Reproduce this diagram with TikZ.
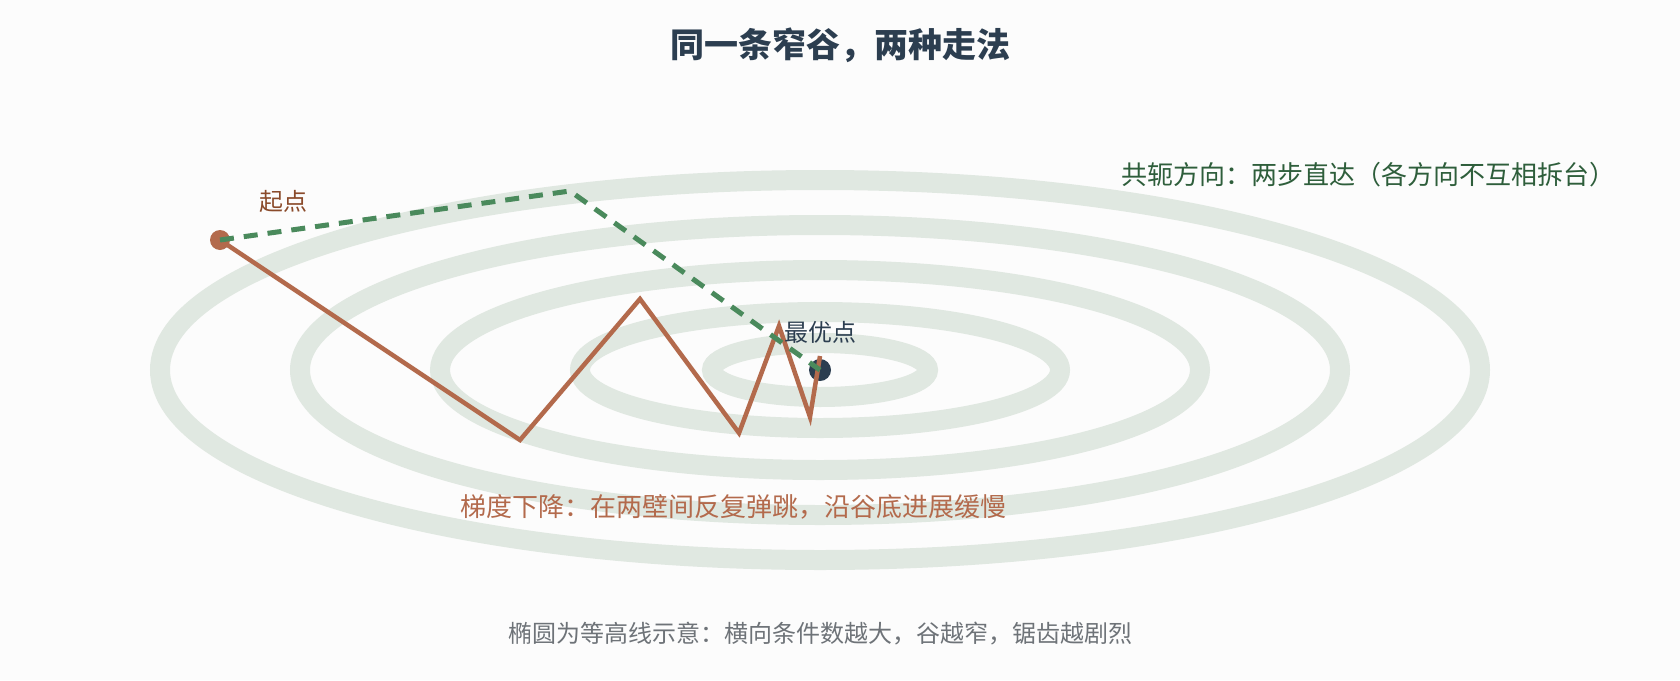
\documentclass[tikz,border=0pt]{standalone}
\usepackage{fontspec}
\usepackage{xcolor}
\usepackage{tikz}
\newfontfamily\cjk{Noto Sans CJK SC}
\usetikzlibrary{positioning}
\definecolor{ink}{HTML}{2C3E50}
\definecolor{contour}{HTML}{E0E8E1}
\definecolor{gdcol}{HTML}{B36A4C}
\definecolor{cgcol}{HTML}{4A8A5C}
\definecolor{cgtext}{HTML}{2E5E3B}
\definecolor{startcol}{HTML}{8A4A2A}
\definecolor{notecol}{HTML}{6E7378}
\definecolor{bg}{HTML}{FCFCFC}
\newcommand{\fs}[1]{\fontsize{#1}{1.2\dimexpr#1\relax}\selectfont}

\begin{document}
\begin{tikzpicture}[x=0.5pt, y=-0.5pt, font=\cjk, every node/.style={inner sep=0pt}]
    \fill[bg] (0, 0) rectangle (1680, 680);
    \useasboundingbox (0, 0) rectangle (1680, 680);
    % contour lines of the valley
    \foreach \rx/\ry in {660/190, 520/145, 380/100, 240/58, 108/27}
      \draw[contour, line width=10pt] (820, 370) ellipse [x radius=\rx*0.5pt, y radius=\ry*0.5pt];
    \node[circle, fill=ink, minimum size=11pt] (opt) at (820, 370) {};
    \node[circle, fill=gdcol, minimum size=10pt] (start) at (220, 240) {};
    % gradient descent zigzag
    \coordinate (g1) at (520, 440);
    \coordinate (g2) at (640, 299);
    \coordinate (g3) at (739, 433);
    \coordinate (g4) at (779, 326);
    \coordinate (g5) at (810, 417);
    \coordinate (g6) at (820, 356);
    \draw[gdcol, line width=2.25pt] (start.center) -- (g1) -- (g2) -- (g3) -- (g4) -- (g5) -- (g6);
    % conjugate directions
    \coordinate (c1) at (570, 191);
    \draw[cgcol, line width=2.5pt, dash pattern=on 7pt off 5pt] (start.center) -- (c1) -- (opt.center);
    \node[ink, font=\cjk\bfseries\fs{17pt}] (title) at (840, 45) {同一条窄谷，两种走法};
    \node[startcol, font=\cjk\fs{12pt}] (startlabel) at (283, 201) {起点};
    \node[ink, font=\cjk\fs{12pt}] (optlabel) at (820, 332) {最优点};
    \node[cgtext, font=\cjk\fs{13pt}, anchor=west] (cglabel) at (1121, 175) {共轭方向：两步直达（各方向不互相拆台）};
    \node[gdcol, font=\cjk\fs{13pt}] (gdlabel) at (733, 507) {梯度下降：在两壁间反复弹跳，沿谷底进展缓慢};
    \node[notecol, font=\cjk\fs{12pt}] (note) at (820, 634) {椭圆为等高线示意：横向条件数越大，谷越窄，锯齿越剧烈};
  \end{tikzpicture}
\end{document}
